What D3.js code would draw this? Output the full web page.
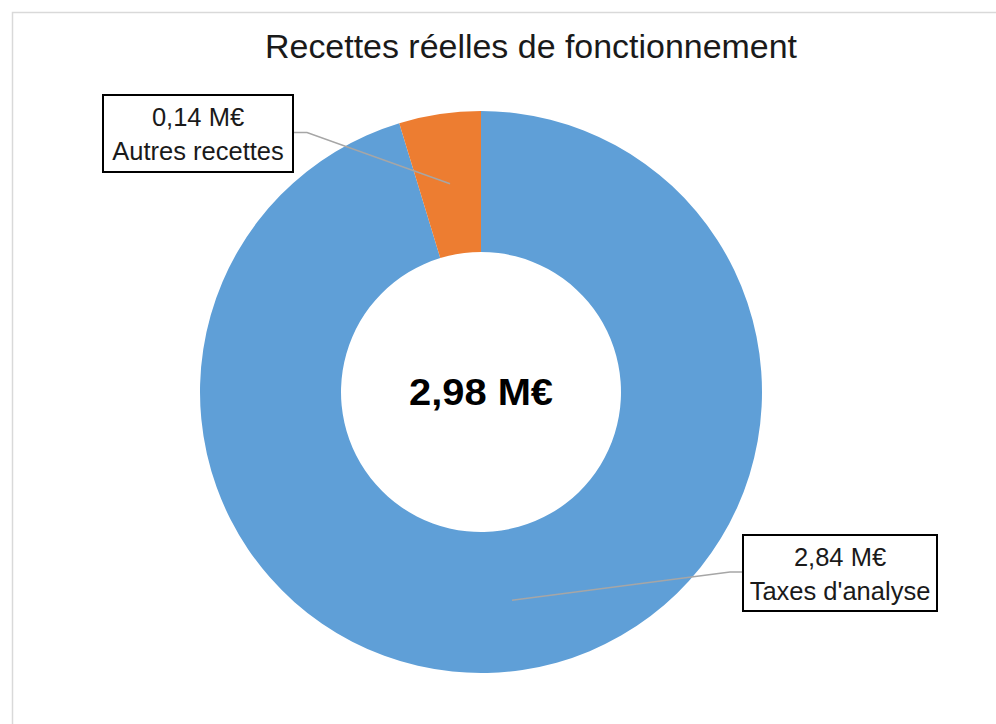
<!DOCTYPE html>
<html>
<head>
<meta charset="utf-8">
<script src="https://cdn.jsdelivr.net/npm/d3@7"></script>
<style>
  body { margin: 0; background: #fff; }
  text { font-family: "Liberation Sans", Arial, sans-serif; }
</style>
</head>
<body>
<div class="chart"></div>
<script>
// data
const categories = ["Taxes d'analyse", "Autres recettes"];
const values = [2.84, 0.14];
const valueLabels = ["2,84 M€", "0,14 M€"];
const totalLabel = "2,98 M€";
const title = "Recettes réelles de fonctionnement";
const colors = ["#5f9fd7", "#ed7d31"];

const width = 996, height = 724;
const cx = 481, cy = 392;
const outerR = 281, innerR = 140;

// label box positions (top-left corner, size) and elbow side
const boxes = [
  { x: 743, y: 535, w: 194, h: 76, side: "left" },
  { x: 103, y: 95, w: 190, h: 77, side: "right" }
];

const svg = d3.select(".chart").append("svg")
  .attr("width", width)
  .attr("height", height);

// frame
svg.append("rect")
  .attr("x", 12.5).attr("y", 12.5)
  .attr("width", 1000).attr("height", 1000)
  .attr("fill", "#fff")
  .attr("stroke", "#d9d9d9")
  .attr("stroke-width", 1.5);

svg.append("text")
  .attr("x", 531).attr("y", 58)
  .attr("text-anchor", "middle")
  .attr("font-size", 33)
  .attr("textLength", 532)
  .attr("lengthAdjust", "spacingAndGlyphs")
  .attr("fill", "#1a1a1a")
  .text(title);

const pie = d3.pie().sort(null).value(d => d);
const arcs = pie(values);
const arc = d3.arc().innerRadius(innerR).outerRadius(outerR);

const g = svg.append("g").attr("transform", `translate(${cx},${cy})`);

g.selectAll("path.slice")
  .data(arcs)
  .enter()
  .append("path")
  .attr("class", "slice")
  .attr("d", arc)
  .attr("fill", (d, i) => colors[i]);

g.append("text")
  .attr("x", 0).attr("y", 13)
  .attr("text-anchor", "middle")
  .attr("font-size", 37)
  .attr("font-weight", "bold")
  .attr("textLength", 144)
  .attr("lengthAdjust", "spacingAndGlyphs")
  .attr("fill", "#000")
  .text(totalLabel);

// leader lines
arcs.forEach((d, i) => {
  const b = boxes[i];
  const c = arc.centroid(d);
  const px = c[0] + cx, py = c[1] + cy;
  const ey = b.y + b.h / 2 - 1;
  const ex = b.side === "left" ? b.x : b.x + b.w;
  const kx = b.side === "left" ? ex - 13 : ex + 14;
  svg.append("polyline")
    .attr("points", [[ex, ey], [kx, ey], [px, py]].map(p => p.join(",")).join(" "))
    .attr("fill", "none")
    .attr("stroke", "#a6a6a6")
    .attr("stroke-width", 1.5);
});

// label boxes
boxes.forEach((b, i) => {
  const lg = svg.append("g");
  lg.append("rect")
    .attr("x", b.x).attr("y", b.y)
    .attr("width", b.w).attr("height", b.h)
    .attr("fill", "#fff")
    .attr("stroke", "#000")
    .attr("stroke-width", 2);
  lg.append("text")
    .attr("x", b.x + b.w / 2).attr("y", b.y + 31)
    .attr("text-anchor", "middle")
    .attr("font-size", 25.5)
    .attr("fill", "#1a1a1a")
    .text(valueLabels[i]);
  lg.append("text")
    .attr("x", b.x + b.w / 2).attr("y", b.y + 65)
    .attr("text-anchor", "middle")
    .attr("font-size", 25.5)
    .attr("fill", "#1a1a1a")
    .text(categories[i]);
});
</script>
</body>
</html>
